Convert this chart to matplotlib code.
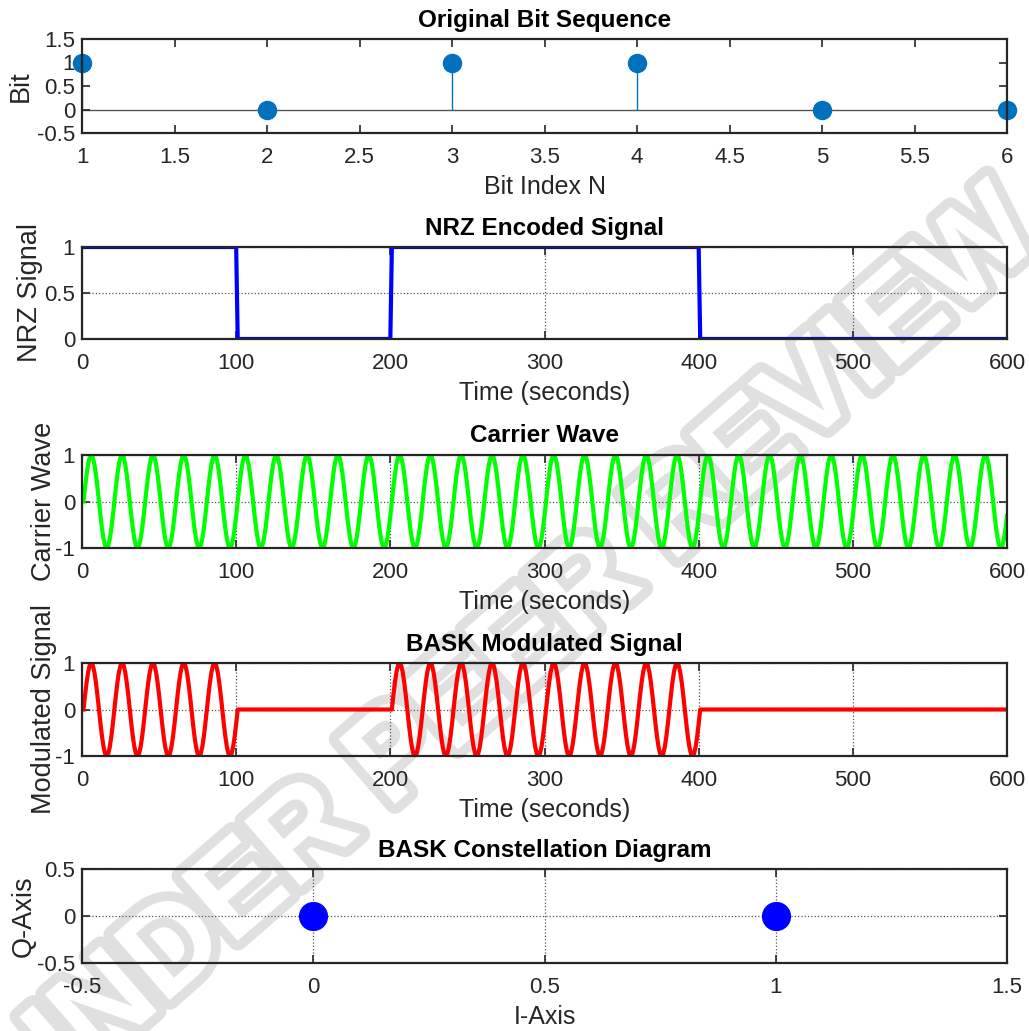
import numpy as np
import matplotlib
matplotlib.use("Agg")
import matplotlib.pyplot as plt
import matplotlib.patheffects as pe

# ---------------- data ----------------
bits = [1, 0, 1, 1, 0, 0]
bit_index = [1, 2, 3, 4, 5, 6]
samples_per_bit = 100          # samples per bit (time axis in samples)
carrier_cycles_per_bit = 5     # carrier cycles within one bit
const_I = [0, 1]
const_Q = [0, 0]

time_ticks = [0, 100, 200, 300, 400, 500, 600]

# signals built from the bit sequence
n_samples = len(bits) * samples_per_bit
t_idx = np.arange(1, n_samples + 1)
t_norm = (t_idx - 1) / samples_per_bit
nrz = np.repeat(bits, samples_per_bit).astype(float)
carrier = np.sin(2 * np.pi * carrier_cycles_per_bit * t_norm)
modulated = nrz * carrier

# ---------------- style ----------------
plt.rcParams['font.family'] = ['Liberation Sans', 'DejaVu Sans']
plt.rcParams['axes.unicode_minus'] = False
TXT = '#262626'
TICK_FS = 16
LAB_FS = 18
YLAB_FS = 19.5
TITLE_FS = 17.5

W, H = 1029, 1031
fig = plt.figure(figsize=(W / 100, H / 100), dpi=100)

def rect(top, bottom, left=82, right=1007):
    return [left / W, 1 - bottom / H, (right - left) / W, (bottom - top) / H]

def style(ax, grid=True):
    ax.set_facecolor('none')
    for s in ax.spines.values():
        s.set_linewidth(1.6)
        s.set_color('#262626')
    ax.tick_params(direction='in', top=True, right=True, length=6, width=1.2,
                   labelsize=TICK_FS, colors=TXT)
    ax.tick_params(axis='x', pad=10)
    ax.tick_params(axis='y', pad=5)
    if grid:
        ax.grid(True, ls=':', lw=0.9, color='#555555')

def labels(ax, title, xl, yl, ylpad):
    ax.set_title(title, fontsize=TITLE_FS, fontweight='bold', pad=9)
    ax.set_xlabel(xl, fontsize=LAB_FS, color=TXT, labelpad=5)
    ax.set_ylabel(yl, fontsize=YLAB_FS, color=TXT, labelpad=ylpad)

# 1) Original bit sequence (stem)
ax1 = fig.add_axes(rect(39, 133))
ml, sl, bl = ax1.stem(bit_index, bits, basefmt=' ')
plt.setp(sl, color='#0072BD', lw=1)
plt.setp(ml, color='#0072BD', markersize=13)
ml.set_clip_on(False)
ax1.axhline(0, color='#555555', lw=1, zorder=1)
ax1.set_xlim(1, 6)
ax1.set_ylim(-0.5, 1.5)
ax1.set_xticks([1, 1.5, 2, 2.5, 3, 3.5, 4, 4.5, 5, 5.5, 6])
ax1.set_xticklabels(['1', '1.5', '2', '2.5', '3', '3.5', '4', '4.5', '5', '5.5', '6'])
ax1.set_yticks([-0.5, 0, 0.5, 1, 1.5])
ax1.set_yticklabels(['-0.5', '0', '0.5', '1', '1.5'])
style(ax1, grid=False)
labels(ax1, 'Original Bit Sequence', 'Bit Index N', 'Bit', 2.5)

# 2) NRZ
ax2 = fig.add_axes(rect(247, 339))
ax2.plot(t_idx, nrz, color=(0, 0, 1), lw=3)
ax2.set_xlim(0, 600)
ax2.set_ylim(0, 1)
ax2.set_xticks(time_ticks)
ax2.set_yticks([0, 0.5, 1])
ax2.set_yticklabels(['0', '0.5', '1'])
style(ax2)
labels(ax2, 'NRZ Encoded Signal', 'Time (seconds)', 'NRZ Signal', 1)

# 3) Carrier
ax3 = fig.add_axes(rect(455, 548))
ax3.plot(t_idx, carrier, color=(0, 1, 0), lw=3)
ax3.set_xlim(0, 600)
ax3.set_ylim(-1, 1)
ax3.set_xticks(time_ticks)
ax3.set_yticks([-1, 0, 1])
style(ax3)
labels(ax3, 'Carrier Wave', 'Time (seconds)', 'Carrier Wave', -1)

# 4) BASK modulated
ax4 = fig.add_axes(rect(663, 756))
ax4.plot(t_idx, modulated, color=(1, 0, 0), lw=3)
ax4.set_xlim(0, 600)
ax4.set_ylim(-1, 1)
ax4.set_xticks(time_ticks)
ax4.set_yticks([-1, 0, 1])
style(ax4)
labels(ax4, 'BASK Modulated Signal', 'Time (seconds)', 'Modulated Signal', -1)

# 5) Constellation
ax5 = fig.add_axes(rect(869, 963))
ax5.plot(const_I, const_Q, 'o', color=(0, 0, 1), markersize=20, ls='none')
ax5.set_xlim(-0.5, 1.5)
ax5.set_ylim(-0.5, 0.5)
ax5.set_xticks([-0.5, 0, 0.5, 1, 1.5])
ax5.set_xticklabels(['-0.5', '0', '0.5', '1', '1.5'])
ax5.set_yticks([-0.5, 0, 0.5])
ax5.set_yticklabels(['-0.5', '0', '0.5'])
style(ax5)
labels(ax5, 'BASK Constellation Diagram', 'I-Axis', 'Q-Axis', 0)

# watermark (hollow outlined letters)
fig.text(0.50, 0.362, 'UNDER PEER REVIEW', fontsize=90, fontweight='bold',
         color='white', rotation=41, ha='center', va='center', zorder=-5,
         path_effects=[pe.withStroke(linewidth=14, foreground='#e0e0e0')])

fig.savefig('out.png', dpi=100)
